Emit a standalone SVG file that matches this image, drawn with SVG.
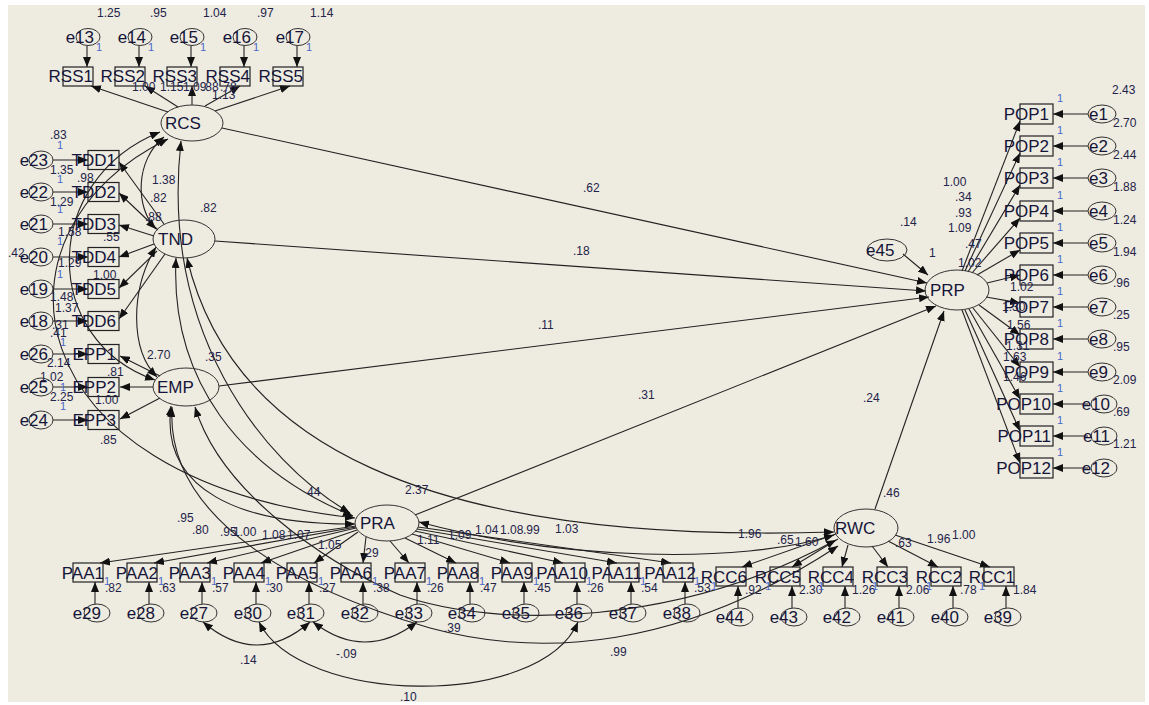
<svg xmlns="http://www.w3.org/2000/svg" width="1149" height="705" viewBox="0 0 1149 705">
<style>
.box{fill:none;stroke:#222;stroke-width:1.2}
.ell{fill:none;stroke:#333;stroke-width:1}
.c line,.c path{stroke:#222;stroke-width:1.1;fill:none}
.lbl{font-family:"Liberation Sans",Arial,sans-serif;font-size:17px;fill:#15153a}
.n{font-family:"Liberation Sans",Arial,sans-serif;font-size:12px;fill:#23234a}
.one{font-family:"Liberation Sans",Arial,sans-serif;font-size:11px;fill:#4a68c8}
.e{text-anchor:end}
</style>
<defs>
<marker id="a" viewBox="0 0 10 8" refX="10" refY="4" markerWidth="10" markerHeight="8" markerUnits="userSpaceOnUse" orient="auto"><path d="M0,0L10,4L0,8z" fill="#111"/></marker>
<marker id="b" viewBox="0 0 10 8" refX="10" refY="4" markerWidth="10" markerHeight="8" markerUnits="userSpaceOnUse" orient="auto-start-reverse"><path d="M0,0L10,4L0,8z" fill="#111"/></marker>
</defs>
<rect width="1149" height="705" fill="#ffffff"/>
<rect x="8" y="5" width="1137" height="697" fill="#EEEBE0"/>

<g id="connectors" class="c">
<!-- e to indicators top -->
<line x1="87" y1="46" x2="87" y2="67" marker-end="url(#a)"/>
<line x1="139" y1="46" x2="139" y2="67" marker-end="url(#a)"/>
<line x1="191" y1="46" x2="191" y2="67" marker-end="url(#a)"/>
<line x1="244" y1="46" x2="244" y2="67" marker-end="url(#a)"/>
<line x1="297" y1="46" x2="297" y2="67" marker-end="url(#a)"/>
<!-- RCS loadings -->
<line x1="168" y1="112" x2="91" y2="86" marker-end="url(#a)"/>
<line x1="178" y1="107" x2="145" y2="86" marker-end="url(#a)"/>
<line x1="192" y1="105" x2="192" y2="86" marker-end="url(#a)"/>
<line x1="205" y1="106" x2="240" y2="86" marker-end="url(#a)"/>
<line x1="215" y1="111" x2="290" y2="86" marker-end="url(#a)"/>
<!-- left e to boxes -->
<line x1="53" y1="160" x2="88" y2="160" marker-end="url(#a)"/>
<line x1="53" y1="192" x2="88" y2="192" marker-end="url(#a)"/>
<line x1="53" y1="224" x2="88" y2="224" marker-end="url(#a)"/>
<line x1="53" y1="257" x2="88" y2="257" marker-end="url(#a)"/>
<line x1="53" y1="289" x2="88" y2="289" marker-end="url(#a)"/>
<line x1="53" y1="321" x2="88" y2="321" marker-end="url(#a)"/>
<line x1="53" y1="354" x2="88" y2="354" marker-end="url(#a)"/>
<line x1="53" y1="387" x2="88" y2="387" marker-end="url(#a)"/>
<line x1="53" y1="420" x2="88" y2="420" marker-end="url(#a)"/>
<!-- TND loadings -->
<line x1="164" y1="224" x2="119" y2="162" marker-end="url(#a)"/>
<line x1="158" y1="230" x2="119" y2="193" marker-end="url(#a)"/>
<line x1="154" y1="236" x2="119" y2="225" marker-end="url(#a)"/>
<line x1="154" y1="244" x2="119" y2="257" marker-end="url(#a)"/>
<line x1="157" y1="251" x2="119" y2="288" marker-end="url(#a)"/>
<line x1="165" y1="254" x2="119" y2="319" marker-end="url(#a)"/>
<!-- EMP loadings -->
<line x1="160" y1="376" x2="120" y2="356" marker-end="url(#a)"/>
<line x1="153" y1="387" x2="120" y2="387" marker-end="url(#a)"/>
<line x1="160" y1="398" x2="120" y2="419" marker-end="url(#a)"/>
<!-- PRA loadings -->
<line x1="356" y1="526" x2="100" y2="563" marker-end="url(#a)"/>
<line x1="356" y1="527" x2="154" y2="563" marker-end="url(#a)"/>
<line x1="356" y1="528" x2="207" y2="563" marker-end="url(#a)"/>
<line x1="357" y1="530" x2="261" y2="563" marker-end="url(#a)"/>
<line x1="358" y1="532" x2="314" y2="563" marker-end="url(#a)"/>
<line x1="366" y1="537" x2="363" y2="563" marker-end="url(#a)"/>
<line x1="390" y1="541" x2="409" y2="563" marker-end="url(#a)"/>
<line x1="405" y1="538" x2="456" y2="563" marker-end="url(#a)"/>
<line x1="412" y1="534" x2="510" y2="563" marker-end="url(#a)"/>
<line x1="415" y1="531" x2="563" y2="563" marker-end="url(#a)"/>
<line x1="417" y1="529" x2="617" y2="563" marker-end="url(#a)"/>
<line x1="418" y1="527" x2="671" y2="563" marker-end="url(#a)"/>
<!-- RWC loadings -->
<line x1="836" y1="534" x2="742" y2="567" marker-end="url(#a)"/>
<line x1="838" y1="539" x2="792" y2="567" marker-end="url(#a)"/>
<line x1="848" y1="545" x2="842" y2="567" marker-end="url(#a)"/>
<line x1="872" y1="546" x2="888" y2="567" marker-end="url(#a)"/>
<line x1="888" y1="541" x2="938" y2="567" marker-end="url(#a)"/>
<line x1="895" y1="535" x2="990" y2="567" marker-end="url(#a)"/>
<!-- bottom e to boxes -->
<line x1="95" y1="604" x2="95" y2="582" marker-end="url(#a)"/>
<line x1="149" y1="604" x2="149" y2="582" marker-end="url(#a)"/>
<line x1="202" y1="604" x2="202" y2="582" marker-end="url(#a)"/>
<line x1="256" y1="604" x2="256" y2="582" marker-end="url(#a)"/>
<line x1="309" y1="604" x2="309" y2="582" marker-end="url(#a)"/>
<line x1="363" y1="604" x2="363" y2="582" marker-end="url(#a)"/>
<line x1="417" y1="604" x2="417" y2="582" marker-end="url(#a)"/>
<line x1="470" y1="604" x2="470" y2="582" marker-end="url(#a)"/>
<line x1="524" y1="604" x2="524" y2="582" marker-end="url(#a)"/>
<line x1="577" y1="604" x2="577" y2="582" marker-end="url(#a)"/>
<line x1="631" y1="604" x2="631" y2="582" marker-end="url(#a)"/>
<line x1="685" y1="604" x2="685" y2="582" marker-end="url(#a)"/>
<line x1="738" y1="608" x2="738" y2="586" marker-end="url(#a)"/>
<line x1="792" y1="608" x2="792" y2="586" marker-end="url(#a)"/>
<line x1="845" y1="608" x2="845" y2="586" marker-end="url(#a)"/>
<line x1="899" y1="608" x2="899" y2="586" marker-end="url(#a)"/>
<line x1="953" y1="608" x2="953" y2="586" marker-end="url(#a)"/>
<line x1="1006" y1="608" x2="1006" y2="586" marker-end="url(#a)"/>
<!-- PRP loadings -->
<line x1="962" y1="271" x2="1020" y2="121" marker-end="url(#a)"/>
<line x1="965" y1="271" x2="1020" y2="153" marker-end="url(#a)"/>
<line x1="968" y1="272" x2="1020" y2="185" marker-end="url(#a)"/>
<line x1="972" y1="273" x2="1020" y2="218" marker-end="url(#a)"/>
<line x1="977" y1="275" x2="1020" y2="250" marker-end="url(#a)"/>
<line x1="987" y1="283" x2="1020" y2="275" marker-end="url(#a)"/>
<line x1="986" y1="297" x2="1020" y2="303" marker-end="url(#a)"/>
<line x1="979" y1="305" x2="1020" y2="335" marker-end="url(#a)"/>
<line x1="973" y1="308" x2="1020" y2="367" marker-end="url(#a)"/>
<line x1="969" y1="309" x2="1020" y2="399" marker-end="url(#a)"/>
<line x1="965" y1="310" x2="1020" y2="431" marker-end="url(#a)"/>
<line x1="962" y1="310" x2="1020" y2="463" marker-end="url(#a)"/>
<!-- right e to boxes -->
<line x1="1088" y1="114" x2="1053" y2="114" marker-end="url(#a)"/>
<line x1="1088" y1="146" x2="1053" y2="146" marker-end="url(#a)"/>
<line x1="1088" y1="178" x2="1053" y2="178" marker-end="url(#a)"/>
<line x1="1088" y1="211" x2="1053" y2="211" marker-end="url(#a)"/>
<line x1="1088" y1="243" x2="1053" y2="243" marker-end="url(#a)"/>
<line x1="1088" y1="275" x2="1053" y2="275" marker-end="url(#a)"/>
<line x1="1088" y1="307" x2="1053" y2="307" marker-end="url(#a)"/>
<line x1="1088" y1="339" x2="1053" y2="339" marker-end="url(#a)"/>
<line x1="1088" y1="372" x2="1053" y2="372" marker-end="url(#a)"/>
<line x1="1088" y1="404" x2="1053" y2="404" marker-end="url(#a)"/>
<line x1="1088" y1="436" x2="1053" y2="436" marker-end="url(#a)"/>
<line x1="1088" y1="468" x2="1053" y2="468" marker-end="url(#a)"/>
<!-- structural paths -->
<line x1="222" y1="128" x2="927" y2="283" marker-end="url(#a)"/>
<line x1="215" y1="241" x2="926" y2="291" marker-end="url(#a)"/>
<line x1="219" y1="386" x2="929" y2="297" marker-end="url(#a)"/>
<line x1="415" y1="515" x2="936" y2="306" marker-end="url(#a)"/>
<line x1="875" y1="509" x2="944" y2="311" marker-end="url(#a)"/>
<line x1="903" y1="254" x2="928" y2="275" marker-end="url(#a)"/>
<!-- covariances -->
<path d="M164,137 C135,160 135,208 156,229" marker-start="url(#b)" marker-end="url(#b)"/>
<path d="M160,132 C40,180 40,340 155,380" marker-start="url(#b)" marker-end="url(#b)"/>
<path d="M168,139 C-20,230 10,480 355,518" marker-start="url(#b)" marker-end="url(#b)"/>
<path d="M181,141 C160,330 260,460 350,513" marker-start="url(#b)" marker-end="url(#b)"/>
<path d="M187,258 C230,440 420,545 834,532" marker-start="url(#b)" marker-end="url(#b)"/>
<path d="M176,258 C170,380 240,470 353,516" marker-start="url(#b)" marker-end="url(#b)"/>
<path d="M156,247 C130,290 130,350 157,377" marker-start="url(#b)" marker-end="url(#b)"/>
<path d="M171,406 C160,490 240,525 355,524" marker-start="url(#b)" marker-end="url(#b)"/>
<path d="M172,407 C165,520 300,590 430,628 C540,658 680,650 838,546" marker-start="url(#b)" marker-end="url(#b)"/>
<path d="M195,407 C220,490 320,560 400,595 C500,630 680,625 836,540" marker-start="url(#b)" marker-end="url(#b)"/>
<path d="M419,522 C560,560 740,565 834,535" marker-start="url(#b)" marker-end="url(#b)"/>
<path d="M203,622 Q257,668 310,622" marker-start="url(#b)" marker-end="url(#b)"/>
<path d="M313,622 Q365,662 417,622" marker-start="url(#b)" marker-end="url(#b)"/>
<path d="M259,622 C300,705 540,710 578,622" marker-start="url(#b)" marker-end="url(#b)"/>
</g>

<!-- latent variables -->
<g id="RCS"><ellipse class="ell" cx="192" cy="123" rx="31" ry="18"/><text class="lbl" x="165" y="129">RCS</text></g>
<g id="TND"><ellipse class="ell" cx="184" cy="239" rx="31" ry="19"/><text class="lbl" x="158" y="245">TND</text></g>
<g id="EMP"><ellipse class="ell" cx="186" cy="387" rx="33" ry="19"/><text class="lbl" x="157" y="393">EMP</text></g>
<g id="PRA"><ellipse class="ell" cx="387" cy="523" rx="32" ry="18"/><text class="lbl" x="360" y="529">PRA</text></g>
<g id="RWC"><ellipse class="ell" cx="866" cy="528" rx="32" ry="19"/><text class="lbl" x="835" y="534">RWC</text></g>
<g id="PRP"><ellipse class="ell" cx="957" cy="290" rx="32" ry="20"/><text class="lbl" x="930" y="296">PRP</text></g>
<g id="e45"><ellipse class="ell" cx="887" cy="250" rx="20" ry="11"/><text class="lbl" x="866" y="256">e45</text></g>

<!-- top row -->
<g id="e13"><ellipse class="ell" cx="88" cy="37" rx="12" ry="8.5"/><text class="lbl e" x="94" y="43">e13</text></g>
<g id="e14"><ellipse class="ell" cx="140" cy="37" rx="12" ry="8.5"/><text class="lbl e" x="146" y="43">e14</text></g>
<g id="e15"><ellipse class="ell" cx="192" cy="37" rx="12" ry="8.5"/><text class="lbl e" x="198" y="43">e15</text></g>
<g id="e16"><ellipse class="ell" cx="245" cy="37" rx="12" ry="8.5"/><text class="lbl e" x="251" y="43">e16</text></g>
<g id="e17"><ellipse class="ell" cx="298" cy="37" rx="12" ry="8.5"/><text class="lbl e" x="304" y="43">e17</text></g>
<g id="RSS1"><rect class="box" x="63" y="67" width="30" height="19"/><text class="lbl e" x="93" y="82">RSS1</text></g>
<g id="RSS2"><rect class="box" x="115" y="67" width="30" height="19"/><text class="lbl e" x="145" y="82">RSS2</text></g>
<g id="RSS3"><rect class="box" x="167" y="67" width="30" height="19"/><text class="lbl e" x="197" y="82">RSS3</text></g>
<g id="RSS4"><rect class="box" x="220" y="67" width="30" height="19"/><text class="lbl e" x="250" y="82">RSS4</text></g>
<g id="RSS5"><rect class="box" x="273" y="67" width="30" height="19"/><text class="lbl e" x="303" y="82">RSS5</text></g>

<!-- left column -->
<g id="e23"><ellipse class="ell" cx="41" cy="160" rx="12" ry="9"/><text class="lbl e" x="48" y="166">e23</text></g>
<g id="e22"><ellipse class="ell" cx="41" cy="192" rx="12" ry="9"/><text class="lbl e" x="48" y="198">e22</text></g>
<g id="e21"><ellipse class="ell" cx="41" cy="224" rx="12" ry="9"/><text class="lbl e" x="48" y="230">e21</text></g>
<g id="e20"><ellipse class="ell" cx="41" cy="257" rx="12" ry="9"/><text class="lbl e" x="48" y="263">e20</text></g>
<g id="e19"><ellipse class="ell" cx="41" cy="289" rx="12" ry="9"/><text class="lbl e" x="48" y="295">e19</text></g>
<g id="e18"><ellipse class="ell" cx="41" cy="321" rx="12" ry="9"/><text class="lbl e" x="48" y="327">e18</text></g>
<g id="e26"><ellipse class="ell" cx="41" cy="354" rx="12" ry="9"/><text class="lbl e" x="48" y="360">e26</text></g>
<g id="e25"><ellipse class="ell" cx="41" cy="387" rx="12" ry="9"/><text class="lbl e" x="48" y="393">e25</text></g>
<g id="e24"><ellipse class="ell" cx="41" cy="420" rx="12" ry="9"/><text class="lbl e" x="48" y="426">e24</text></g>
<g id="TDD1"><rect class="box" x="88" y="150.5" width="31" height="19"/><text class="lbl e" x="116" y="166">TDD1</text></g>
<g id="TDD2"><rect class="box" x="88" y="182.5" width="31" height="19"/><text class="lbl e" x="116" y="198">TDD2</text></g>
<g id="TDD3"><rect class="box" x="88" y="214.5" width="31" height="19"/><text class="lbl e" x="116" y="230">TDD3</text></g>
<g id="TDD4"><rect class="box" x="88" y="247.5" width="31" height="19"/><text class="lbl e" x="116" y="263">TDD4</text></g>
<g id="TDD5"><rect class="box" x="88" y="279.5" width="31" height="19"/><text class="lbl e" x="116" y="295">TDD5</text></g>
<g id="TDD6"><rect class="box" x="88" y="311.5" width="31" height="19"/><text class="lbl e" x="116" y="327">TDD6</text></g>
<g id="EPP1"><rect class="box" x="88" y="344.5" width="31" height="19"/><text class="lbl e" x="116" y="360">EPP1</text></g>
<g id="EPP2"><rect class="box" x="88" y="377.5" width="31" height="19"/><text class="lbl e" x="116" y="393">EPP2</text></g>
<g id="EPP3"><rect class="box" x="88" y="410.5" width="31" height="19"/><text class="lbl e" x="116" y="426">EPP3</text></g>

<!-- right column -->
<g id="POP1"><rect class="box" x="1020" y="104" width="33" height="20"/><text class="lbl e" x="1049" y="120">POP1</text></g>
<g id="POP2"><rect class="box" x="1020" y="136" width="33" height="20"/><text class="lbl e" x="1049" y="152">POP2</text></g>
<g id="POP3"><rect class="box" x="1020" y="168" width="33" height="20"/><text class="lbl e" x="1049" y="184">POP3</text></g>
<g id="POP4"><rect class="box" x="1020" y="201" width="33" height="20"/><text class="lbl e" x="1049" y="217">POP4</text></g>
<g id="POP5"><rect class="box" x="1020" y="233" width="33" height="20"/><text class="lbl e" x="1049" y="249">POP5</text></g>
<g id="POP6"><rect class="box" x="1020" y="265" width="33" height="20"/><text class="lbl e" x="1049" y="281">POP6</text></g>
<g id="POP7"><rect class="box" x="1020" y="297" width="33" height="20"/><text class="lbl e" x="1049" y="313">POP7</text></g>
<g id="POP8"><rect class="box" x="1020" y="329" width="33" height="20"/><text class="lbl e" x="1049" y="345">POP8</text></g>
<g id="POP9"><rect class="box" x="1020" y="362" width="33" height="20"/><text class="lbl e" x="1049" y="378">POP9</text></g>
<g id="POP10"><rect class="box" x="1020" y="394" width="33" height="20"/><text class="lbl e" x="1051" y="410">POP10</text></g>
<g id="POP11"><rect class="box" x="1020" y="426" width="33" height="20"/><text class="lbl e" x="1051" y="442">POP11</text></g>
<g id="POP12"><rect class="box" x="1020" y="458" width="33" height="20"/><text class="lbl e" x="1051" y="474">POP12</text></g>
<g id="e1"><ellipse class="ell" cx="1102" cy="114" rx="14" ry="9"/><text class="lbl e" x="1108" y="120">e1</text></g>
<g id="e2"><ellipse class="ell" cx="1102" cy="146" rx="14" ry="9"/><text class="lbl e" x="1108" y="152">e2</text></g>
<g id="e3"><ellipse class="ell" cx="1102" cy="178" rx="14" ry="9"/><text class="lbl e" x="1108" y="184">e3</text></g>
<g id="e4"><ellipse class="ell" cx="1102" cy="211" rx="14" ry="9"/><text class="lbl e" x="1108" y="217">e4</text></g>
<g id="e5"><ellipse class="ell" cx="1102" cy="243" rx="14" ry="9"/><text class="lbl e" x="1108" y="249">e5</text></g>
<g id="e6"><ellipse class="ell" cx="1102" cy="275" rx="14" ry="9"/><text class="lbl e" x="1108" y="281">e6</text></g>
<g id="e7"><ellipse class="ell" cx="1102" cy="307" rx="14" ry="9"/><text class="lbl e" x="1108" y="313">e7</text></g>
<g id="e8"><ellipse class="ell" cx="1102" cy="339" rx="14" ry="9"/><text class="lbl e" x="1108" y="345">e8</text></g>
<g id="e9"><ellipse class="ell" cx="1102" cy="372" rx="14" ry="9"/><text class="lbl e" x="1108" y="378">e9</text></g>
<g id="e10"><ellipse class="ell" cx="1104" cy="404" rx="13" ry="9"/><text class="lbl e" x="1110" y="410">e10</text></g>
<g id="e11"><ellipse class="ell" cx="1104" cy="436" rx="13" ry="9"/><text class="lbl e" x="1110" y="442">e11</text></g>
<g id="e12"><ellipse class="ell" cx="1104" cy="468" rx="13" ry="9"/><text class="lbl e" x="1110" y="474">e12</text></g>

<!-- bottom row -->
<g id="PAA1"><rect class="box" x="73" y="563" width="30" height="19"/><text class="lbl e" x="104" y="579">PAA1</text></g>
<g id="PAA2"><rect class="box" x="127" y="563" width="30" height="19"/><text class="lbl e" x="158" y="579">PAA2</text></g>
<g id="PAA3"><rect class="box" x="180" y="563" width="30" height="19"/><text class="lbl e" x="211" y="579">PAA3</text></g>
<g id="PAA4"><rect class="box" x="234" y="563" width="30" height="19"/><text class="lbl e" x="265" y="579">PAA4</text></g>
<g id="PAA5"><rect class="box" x="287" y="563" width="30" height="19"/><text class="lbl e" x="318" y="579">PAA5</text></g>
<g id="PAA6"><rect class="box" x="341" y="563" width="30" height="19"/><text class="lbl e" x="372" y="579">PAA6</text></g>
<g id="PAA7"><rect class="box" x="395" y="563" width="30" height="19"/><text class="lbl e" x="426" y="579">PAA7</text></g>
<g id="PAA8"><rect class="box" x="448" y="563" width="30" height="19"/><text class="lbl e" x="479" y="579">PAA8</text></g>
<g id="PAA9"><rect class="box" x="502" y="563" width="30" height="19"/><text class="lbl e" x="533" y="579">PAA9</text></g>
<g id="PAA10"><rect class="box" x="555" y="563" width="30" height="19"/><text class="lbl e" x="588" y="579">PAA10</text></g>
<g id="PAA11"><rect class="box" x="609" y="563" width="30" height="19"/><text class="lbl e" x="642" y="579">PAA11</text></g>
<g id="PAA12"><rect class="box" x="663" y="563" width="30" height="19"/><text class="lbl e" x="696" y="579">PAA12</text></g>
<g id="RCC6"><rect class="box" x="716" y="567" width="30" height="19"/><text class="lbl e" x="747" y="583">RCC6</text></g>
<g id="RCC5"><rect class="box" x="770" y="567" width="30" height="19"/><text class="lbl e" x="801" y="583">RCC5</text></g>
<g id="RCC4"><rect class="box" x="823" y="567" width="30" height="19"/><text class="lbl e" x="854" y="583">RCC4</text></g>
<g id="RCC3"><rect class="box" x="877" y="567" width="30" height="19"/><text class="lbl e" x="908" y="583">RCC3</text></g>
<g id="RCC2"><rect class="box" x="931" y="567" width="30" height="19"/><text class="lbl e" x="962" y="583">RCC2</text></g>
<g id="RCC1"><rect class="box" x="984" y="567" width="30" height="19"/><text class="lbl e" x="1015" y="583">RCC1</text></g>
<g id="e29"><ellipse class="ell" cx="97" cy="613" rx="13" ry="9"/><text class="lbl e" x="101" y="619">e29</text></g>
<g id="e28"><ellipse class="ell" cx="151" cy="613" rx="13" ry="9"/><text class="lbl e" x="155" y="619">e28</text></g>
<g id="e27"><ellipse class="ell" cx="204" cy="613" rx="13" ry="9"/><text class="lbl e" x="208" y="619">e27</text></g>
<g id="e30"><ellipse class="ell" cx="258" cy="613" rx="13" ry="9"/><text class="lbl e" x="262" y="619">e30</text></g>
<g id="e31"><ellipse class="ell" cx="311" cy="613" rx="13" ry="9"/><text class="lbl e" x="315" y="619">e31</text></g>
<g id="e32"><ellipse class="ell" cx="365" cy="613" rx="13" ry="9"/><text class="lbl e" x="369" y="619">e32</text></g>
<g id="e33"><ellipse class="ell" cx="419" cy="613" rx="13" ry="9"/><text class="lbl e" x="423" y="619">e33</text></g>
<g id="e34"><ellipse class="ell" cx="472" cy="613" rx="13" ry="9"/><text class="lbl e" x="476" y="619">e34</text></g>
<g id="e35"><ellipse class="ell" cx="526" cy="613" rx="13" ry="9"/><text class="lbl e" x="530" y="619">e35</text></g>
<g id="e36"><ellipse class="ell" cx="579" cy="613" rx="13" ry="9"/><text class="lbl e" x="583" y="619">e36</text></g>
<g id="e37"><ellipse class="ell" cx="633" cy="613" rx="13" ry="9"/><text class="lbl e" x="637" y="619">e37</text></g>
<g id="e38"><ellipse class="ell" cx="687" cy="613" rx="13" ry="9"/><text class="lbl e" x="691" y="619">e38</text></g>
<g id="e44"><ellipse class="ell" cx="740" cy="617" rx="13" ry="9"/><text class="lbl e" x="744" y="623">e44</text></g>
<g id="e43"><ellipse class="ell" cx="794" cy="617" rx="13" ry="9"/><text class="lbl e" x="798" y="623">e43</text></g>
<g id="e42"><ellipse class="ell" cx="847" cy="617" rx="13" ry="9"/><text class="lbl e" x="851" y="623">e42</text></g>
<g id="e41"><ellipse class="ell" cx="901" cy="617" rx="13" ry="9"/><text class="lbl e" x="905" y="623">e41</text></g>
<g id="e40"><ellipse class="ell" cx="955" cy="617" rx="13" ry="9"/><text class="lbl e" x="959" y="623">e40</text></g>
<g id="e39"><ellipse class="ell" cx="1008" cy="617" rx="13" ry="9"/><text class="lbl e" x="1012" y="623">e39</text></g>

<g id="labels">
<!-- top variances -->
<text class="n" x="97" y="17">1.25</text><text class="n" x="150" y="17">.95</text><text class="n" x="203" y="17">1.04</text><text class="n" x="257" y="17">.97</text><text class="n" x="310" y="17">1.14</text>
<text class="one" x="96" y="51">1</text><text class="one" x="148" y="51">1</text><text class="one" x="200" y="51">1</text><text class="one" x="253" y="51">1</text><text class="one" x="306" y="51">1</text>
<text class="n" x="132" y="91">1.00</text><text class="n" x="160" y="91">1.15</text><text class="n" x="183" y="91">1.09</text><text class="n" x="202" y="91">.88</text><text class="n" x="220" y="91">.78</text><text class="n" x="212" y="99">1.13</text>
<!-- left -->
<text class="n" x="50" y="139">.83</text><text class="one" x="57" y="149">1</text>
<text class="n" x="50" y="174">1.35</text><text class="one" x="57" y="183">1</text><text class="n" x="77" y="182">.98</text>
<text class="n" x="50" y="206">1.29</text><text class="one" x="57" y="213">1</text>
<text class="n" x="58" y="236">1.58</text><text class="one" x="57" y="245">1</text><text class="n" x="103" y="241">.55</text>
<text class="n" x="8" y="257">.42</text>
<text class="n" x="58" y="267">1.29</text><text class="one" x="57" y="278">1</text><text class="n" x="93" y="279">1.00</text>
<text class="n" x="50" y="301">1.48</text><text class="n" x="55" y="312">1.37</text><text class="n" x="52" y="329">.31</text>
<text class="n" x="50" y="337">.41</text><text class="one" x="60" y="346">1</text>
<text class="n" x="47" y="367">2.14</text><text class="n" x="40" y="381">1.02</text><text class="one" x="60" y="391">1</text>
<text class="n" x="50" y="401">2.25</text><text class="one" x="60" y="410">1</text>
<text class="n" x="107" y="376">.81</text><text class="n" x="95" y="404">1.00</text><text class="n" x="100" y="444">.85</text>
<text class="n" x="147" y="359">2.70</text><text class="n" x="205" y="361">.35</text>
<text class="n" x="152" y="184">1.38</text><text class="n" x="150" y="202">.82</text><text class="n" x="200" y="212">.82</text><text class="n" x="145" y="221">.88</text>
<!-- paths -->
<text class="n" x="583" y="192">.62</text><text class="n" x="573" y="255">.18</text><text class="n" x="538" y="329">.11</text><text class="n" x="638" y="399">.31</text>
<text class="n" x="863" y="402">.24</text><text class="n" x="883" y="497">.46</text><text class="n" x="900" y="226">.14</text><text class="n" x="929" y="257">1</text>
<text class="n" x="405" y="494">2.37</text><text class="n" x="307" y="496">44</text>
<!-- PRP loadings -->
<text class="n" x="943" y="186">1.00</text><text class="n" x="955" y="201">.34</text><text class="n" x="955" y="217">.93</text><text class="n" x="948" y="232">1.09</text><text class="n" x="965" y="248">.47</text><text class="n" x="958" y="267">1.02</text>
<text class="n" x="1010" y="291">1.02</text><text class="n" x="1002" y="311">1.30</text><text class="n" x="1007" y="329">1.56</text><text class="n" x="1006" y="350">1.31</text><text class="n" x="1003" y="361">1.63</text><text class="n" x="1003" y="381">1.46</text>
<!-- right side -->
<text class="one" x="1057" y="102">1</text><text class="one" x="1057" y="134">1</text><text class="one" x="1057" y="166">1</text><text class="one" x="1057" y="199">1</text><text class="one" x="1057" y="231">1</text><text class="one" x="1057" y="263">1</text><text class="one" x="1057" y="295">1</text><text class="one" x="1057" y="327">1</text><text class="one" x="1057" y="360">1</text><text class="one" x="1057" y="392">1</text><text class="one" x="1057" y="424">1</text><text class="one" x="1057" y="456">1</text>
<text class="n" x="1112" y="94">2.43</text><text class="n" x="1113" y="127">2.70</text><text class="n" x="1113" y="159">2.44</text><text class="n" x="1113" y="191">1.88</text><text class="n" x="1113" y="224">1.24</text><text class="n" x="1113" y="256">1.94</text><text class="n" x="1113" y="287">.96</text><text class="n" x="1113" y="319">.25</text><text class="n" x="1113" y="351">.95</text><text class="n" x="1113" y="384">2.09</text><text class="n" x="1113" y="416">.69</text><text class="n" x="1113" y="448">1.21</text>
<!-- PRA / RWC loadings -->
<text class="n" x="177" y="522">.95</text><text class="n" x="192" y="534">.80</text><text class="n" x="220" y="536">.95</text><text class="n" x="233" y="536">1.00</text><text class="n" x="262" y="539">1.08</text><text class="n" x="287" y="539">1.07</text><text class="n" x="318" y="549">1.05</text><text class="n" x="362" y="557">.29</text>
<text class="n" x="417" y="544">1.11</text><text class="n" x="448" y="539">1.09</text><text class="n" x="475" y="534">1.04</text><text class="n" x="500" y="534">1.08</text><text class="n" x="523" y="534">.99</text><text class="n" x="555" y="533">1.03</text>
<text class="n" x="738" y="538">1.96</text><text class="n" x="777" y="544">.65</text><text class="n" x="795" y="546">1.60</text><text class="n" x="895" y="547">.63</text><text class="n" x="927" y="543">1.96</text><text class="n" x="952" y="539">1.00</text>
<!-- bottom variances -->
<text class="n" x="105" y="592">.82</text><text class="n" x="159" y="592">.63</text><text class="n" x="212" y="592">.57</text><text class="n" x="266" y="592">.30</text><text class="n" x="319" y="592">.27</text><text class="n" x="373" y="592">.38</text><text class="n" x="427" y="592">.26</text><text class="n" x="480" y="592">.47</text><text class="n" x="534" y="592">.45</text><text class="n" x="587" y="592">.26</text><text class="n" x="641" y="592">.54</text><text class="n" x="694" y="592">.53</text>
<text class="n" x="745" y="594">.92</text><text class="n" x="799" y="594">2.30</text><text class="n" x="852" y="594">1.26</text><text class="n" x="906" y="594">2.06</text><text class="n" x="960" y="594">.78</text><text class="n" x="1013" y="594">1.84</text>
<text class="one" x="104" y="585">1</text><text class="one" x="158" y="585">1</text><text class="one" x="211" y="585">1</text><text class="one" x="265" y="585">1</text><text class="one" x="318" y="585">1</text><text class="one" x="372" y="585">1</text><text class="one" x="426" y="585">1</text><text class="one" x="479" y="585">1</text><text class="one" x="533" y="585">1</text><text class="one" x="586" y="585">1</text><text class="one" x="640" y="585">1</text><text class="one" x="694" y="585">1</text>
<text class="one" x="711" y="590">1</text><text class="one" x="765" y="590">1</text><text class="one" x="818" y="590">1</text><text class="one" x="872" y="590">1</text><text class="one" x="926" y="590">1</text><text class="one" x="979" y="590">1</text>
<!-- error covariances -->
<text class="n" x="240" y="664">.14</text><text class="n" x="336" y="658">-.09</text><text class="n" x="400" y="701">.10</text><text class="n" x="610" y="656">.99</text><text class="n" x="444" y="632">.39</text>
</g>
</svg>
